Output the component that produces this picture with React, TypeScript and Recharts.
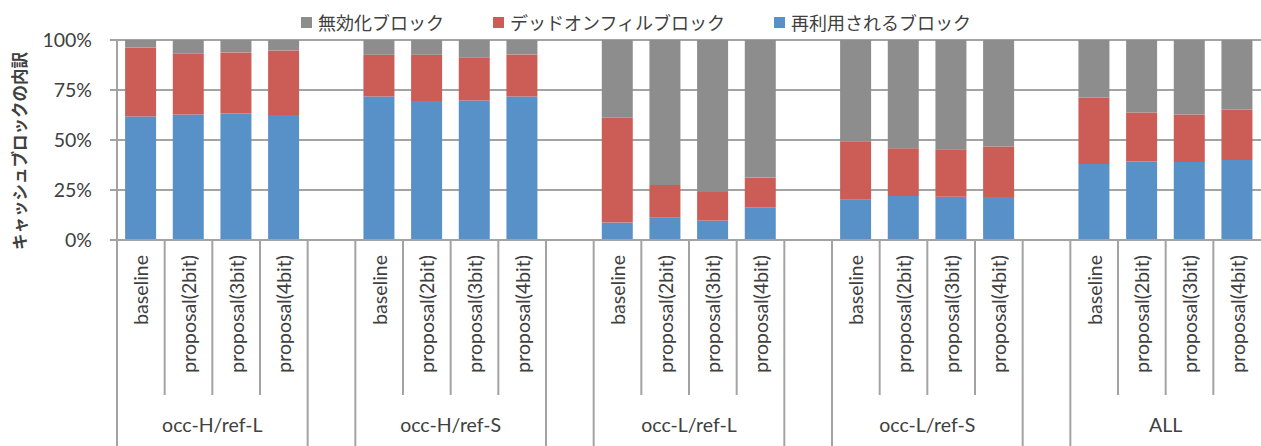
import { Bar, BarChart, CartesianGrid, Legend, XAxis, YAxis } from "recharts";

const groups = ["occ-H/ref-L", "occ-H/ref-S", "occ-L/ref-L", "occ-L/ref-S", "ALL"];
const variants = ["baseline", "proposal(2bit)", "proposal(3bit)", "proposal(4bit)"];

// share of cache blocks (%), one row per group, one entry per variant
const reused = [
  [61.7, 62.8, 63.2, 62.5],
  [71.7, 69.5, 69.7, 71.7],
  [8.7, 11.1, 9.7, 16.4],
  [20.1, 22.0, 21.6, 21.5],
  [38.0, 39.3, 39.0, 40.0],
];
const deadOnFill = [
  [34.6, 30.3, 30.6, 32.3],
  [20.9, 23.1, 21.4, 21.1],
  [52.4, 16.4, 14.3, 14.8],
  [29.3, 23.9, 23.8, 25.2],
  [33.2, 24.4, 23.8, 25.2],
];
const invalidated = [
  [3.7, 6.9, 6.2, 5.2],
  [7.4, 7.4, 8.9, 7.2],
  [38.9, 72.5, 76.0, 68.8],
  [50.6, 54.1, 54.6, 53.3],
  [28.8, 36.3, 37.2, 34.8],
];

const yTicks = [0, 25, 50, 75, 100];
const yTitle = "キャッシュブロックの内訳";

const series = [
  { key: "invalidated", name: "無効化ブロック", color: "#8d8d8d" },
  { key: "deadOnFill", name: "デッドオンフィルブロック", color: "#cc5d56" },
  { key: "reused", name: "再利用されるブロック", color: "#5891c8" },
];

type Row = {
  key: string;
  group: string;
  variant: string;
  kind: number; // 0..3 = variant index, 4 = spacer between groups
  reused?: number;
  deadOnFill?: number;
  invalidated?: number;
};

const rows: Row[] = [];
groups.forEach((group, gi) => {
  variants.forEach((variant, vi) => {
    rows.push({
      key: `${group}:${variant}`,
      group,
      variant,
      kind: vi,
      reused: reused[gi][vi],
      deadOnFill: deadOnFill[gi][vi],
      invalidated: invalidated[gi][vi],
    });
  });
  if (gi < groups.length - 1) rows.push({ key: `gap${gi}`, group: "", variant: "", kind: 4 });
});

const W = 1261;
const H = 446;
const TOP = 40;
const AXIS_W = 117;
const XAXIS_H = 206;
const LINE = "#a3a3a3";
const TEXT = "#404040";
const LATIN = "Lato, 'Noto Sans', sans-serif";
const CJK = "'Noto Sans CJK JP', sans-serif";

function CategoryTick(props: any) {
  const { x, y, payload } = props;
  const row = rows[payload.index];
  const half = payload.offset ?? (W - AXIS_W) / rows.length / 2;
  const left = x - half;
  const longEdge = row.kind === 0 || row.kind === 4;
  return (
    <g>
      <line x1={left} y1={y} x2={left} y2={y + (longEdge ? XAXIS_H : 155)} stroke={LINE} strokeWidth={2} />
      {row.variant && (
        <text
          transform={`translate(${x},${y + 15}) rotate(-90)`}
          textAnchor="end"
          dy="0.38em"
          fontSize={19.5}
          fontFamily={LATIN}
          fill={TEXT}
        >
          {row.variant}
        </text>
      )}
      {row.kind === 2 && (
        <text x={left} y={y + 192} textAnchor="middle" fontSize={19.5} fontFamily={LATIN} fill={TEXT}>
          {row.group}
        </text>
      )}
    </g>
  );
}

function LegendContent() {
  return (
    <div style={{ display: "flex", alignItems: "center", fontFamily: CJK, fontSize: 18, color: TEXT }}>
      {series.map((s, i) => (
        <div key={s.key} style={{ display: "flex", alignItems: "center", marginLeft: i === 0 ? 0 : 49 }}>
          <span style={{ width: 11, height: 11, background: s.color, marginRight: 6 }} />
          <span>{s.name}</span>
        </div>
      ))}
    </div>
  );
}

function YTitle(props: any) {
  const vb = props.viewBox;
  const cy = vb.y + vb.height / 2 + 11;
  return (
    <text
      transform={`translate(20,${cy}) rotate(-90)`}
      textAnchor="middle"
      dy="0.35em"
      fontSize={16.5}
      fontWeight="bold"
      fontFamily={CJK}
      fill={TEXT}
    >
      {yTitle}
    </text>
  );
}

export default function App() {
  return (
    <div style={{ position: "absolute", left: 0, top: 0, width: W, height: H, background: "#fff" }}>
      <BarChart
        width={W}
        height={H}
        data={rows}
        margin={{ top: TOP, right: 0, bottom: 0, left: 0 }}
        barCategoryGap="17%"
      >
        <CartesianGrid horizontal vertical={false} stroke={LINE} strokeWidth={2} />
        <XAxis
          dataKey="key"
          interval={0}
          height={XAXIS_H}
          tickSize={0}
          tickMargin={0}
          tickLine={false}
          axisLine={{ stroke: LINE, strokeWidth: 2 }}
          tick={<CategoryTick />}
        />
        <YAxis
          width={AXIS_W}
          domain={[0, 100]}
          ticks={yTicks}
          tickFormatter={(v: number) => `${v}%`}
          tickSize={7}
          tickMargin={18}
          tickLine={{ stroke: LINE, strokeWidth: 2 }}
          axisLine={{ stroke: LINE, strokeWidth: 2 }}
          tick={{ fontSize: 19.5, fontFamily: LATIN, fill: TEXT }}
          label={<YTitle />}
        />
        <Legend
          verticalAlign="middle"
          align="center"
          content={<LegendContent />}
          wrapperStyle={{ top: 9, left: 301, width: "auto" }}
        />
        <Bar dataKey="reused" stackId="a" fill="#5891c8" isAnimationActive={false} />
        <Bar dataKey="deadOnFill" stackId="a" fill="#cc5d56" isAnimationActive={false} />
        <Bar dataKey="invalidated" stackId="a" fill="#8d8d8d" isAnimationActive={false} />
      </BarChart>
    </div>
  );
}
